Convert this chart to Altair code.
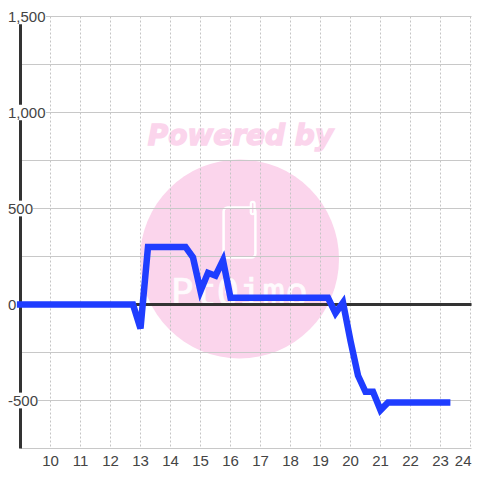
import altair as alt
import pandas as pd

hours = [8.88, 9.25, 9.5, 9.75, 10, 10.25, 10.5, 10.75, 11, 11.25, 11.5, 11.75, 12, 12.25, 12.5, 12.75,
         13, 13.25, 13.5, 13.75, 14, 14.25, 14.5, 14.75, 15, 15.25, 15.5, 15.75, 16, 16.25, 16.5, 16.75,
         17, 17.25, 17.5, 17.75, 18, 18.25, 18.5, 18.75, 19, 19.25, 19.5, 19.75, 20, 20.25, 20.5, 20.75,
         21, 21.25, 21.5, 21.75, 22, 22.25, 22.5, 22.75, 23, 23.33]
values = [0] * 16 + [-125, 300, 300, 300, 300, 300, 300, 245, 70, 165, 150, 230, 35, 35, 35, 35,
          35, 35, 35, 35, 35, 35, 35, 35, 35, 35, -45, 10, -190, -370, -455, -455,
          -550, -510, -510, -510, -510, -510, -510, -510, -510, -510]
x_ticks = list(range(10, 24))
last_tick = [24]
y_major = [-500, 0, 500, 1000, 1500]
y_grid = [-500, -250, 0, 250, 500, 750, 1000, 1250, 1500]
y_labels = ["-500", "0", "500", "1,000", "1,500"]

PLOT_LEFT = 20.5
XD = [9, 9 + 451 / 30]
YD = [-750, 1500]
xs = alt.Scale(domain=XD, nice=False, zero=False)
ys = alt.Scale(domain=YD, nice=False, zero=False)
INK = "#444444"
PINK = "#fbd5ec"
LABEL_LEFT = {"-500": 8, "0": 8, "500": 8, "1,000": 8, "1,500": 8}
LABEL_MASK = {"-500": (8, 38), "0": (8, 16), "500": (8, 33), "1,000": (8, 46), "1,500": (8, 46)}

def X(f="x", **k):
    return alt.X(f + ":Q", scale=xs, axis=None, **k)
def Y(f="y", **k):
    return alt.Y(f + ":Q", scale=ys, axis=None, **k)
def px(v):
    return alt.value(v - PLOT_LEFT)

line_df = pd.DataFrame({"x": hours, "y": values})
xgrid = alt.Chart(pd.DataFrame({"x": x_ticks + last_tick})).mark_rule(color="#c4c4c4", strokeWidth=1, strokeDash=[2, 2]).encode(x=X())
ygrid = alt.Chart(pd.DataFrame({"y": y_grid})).mark_rule(color="#c8c8c8", strokeWidth=1).encode(y=Y())
bottom = alt.Chart(pd.DataFrame({"y": [-750]})).mark_rule(color="#c8c8c8", strokeWidth=1).encode(y=Y())

circle = alt.Chart(pd.DataFrame({"x": [16.3], "y": [237]})).mark_point(
    filled=True, color=PINK, opacity=1, size=39600).encode(x=X(), y=Y())
powered = alt.Chart(pd.DataFrame({"x": [16.33], "y": [872], "t": ["Powered by"]})).mark_text(
    font="DejaVu Sans", fontSize=28, fontWeight="bold", fontStyle="italic", color=PINK,
    stroke=PINK, strokeWidth=1.4).encode(x=X(), y=Y(), text="t:N")
phone = alt.Chart(pd.DataFrame({"x": [15.77], "x2": [16.83], "y": [245], "y2": [505]})).mark_rect(
    fill=PINK, stroke="white", strokeWidth=2.5, cornerRadius=4).encode(x=X(), x2="x2:Q", y=Y(), y2="y2:Q")
antenna_df = pd.DataFrame({"x": [16.74], "y": [480], "y2": [525]})
antenna = alt.Chart(antenna_df).mark_rule(color="white", strokeWidth=6, strokeCap="round").encode(x=X(), y=Y(), y2="y2:Q")
antenna_in = alt.Chart(antenna_df).mark_rule(color=PINK, strokeWidth=1.5, strokeCap="round").encode(x=X(), y=Y(), y2="y2:Q")
brand = alt.Chart(pd.DataFrame({"x": [16.3], "y": [-5], "t": ["Pt0imo"]})).mark_text(
    font="DejaVu Sans Mono", fontSize=38, color="white", opacity=0.9, baseline="alphabetic",
    stroke="white", strokeWidth=0.6).encode(x=X(), y=Y(), text="t:N")

zero = alt.Chart(pd.DataFrame({"y": [0]})).mark_rule(color="#333333", strokeWidth=3).encode(y=Y())
yaxis = alt.Chart(pd.DataFrame({"x": [XD[0]]})).mark_rule(color="#333333", strokeWidth=3).encode(x=X())

line = alt.Chart(line_df).mark_line(color="#1f3dff", strokeWidth=6.5, strokeJoin="miter", clip=False).encode(
    x=X(), y=Y(), order="x:Q")

lab = pd.DataFrame({"y": y_major, "t": y_labels})
lab["lo"] = lab["y"] - 41
lab["hi"] = lab["y"] + 41
layers = [circle, powered, phone, antenna, antenna_in, brand, xgrid, ygrid, bottom, zero, yaxis]
for t in y_labels:
    one = lab[lab.t == t]
    a, b = LABEL_MASK[t]
    layers.append(alt.Chart(one).mark_rect(color="white", clip=False).encode(
        x=px(a), x2=px(b), y=Y("lo"), y2="hi:Q"))
layers.append(line)
for t in y_labels:
    one = lab[lab.t == t]
    layers.append(alt.Chart(one).mark_text(align="left", color=INK, fontSize=15, font="Liberation Sans", clip=False).encode(
        x=px(LABEL_LEFT[t]), y=Y(), text="t:N"))
xlab = alt.Chart(pd.DataFrame({"x": x_ticks})).mark_text(color=INK, fontSize=15, font="Liberation Sans",
                                clip=False).encode(x=X(), y=alt.value(444), text="x:Q")
xlab_last = alt.Chart(pd.DataFrame({"x": last_tick})).mark_text(color=INK, fontSize=15, font="Liberation Sans", align="right",
                                dx=1, clip=False).encode(x=X(), y=alt.value(444), text="x:Q")
layers += [xlab, xlab_last]

chart = alt.layer(*layers).properties(
    width=451, height=432, background="white",
    padding={"left": 12.5, "top": 8.5, "right": 0.5, "bottom": 23.5},
    autosize=alt.AutoSizeParams(type="none"),
).configure_view(stroke=None)
chart.save("out.html", embed_options={"renderer": "svg", "actions": False})
